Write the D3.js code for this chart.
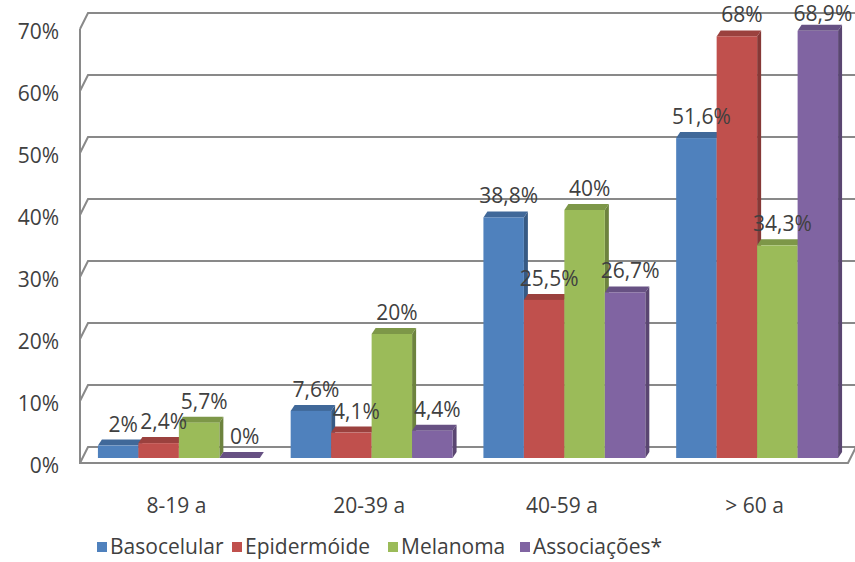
<!DOCTYPE html>
<html>
<head>
<meta charset="utf-8">
<script src="https://cdn.jsdelivr.net/npm/d3@7"></script>
<style>
  body { margin: 0; background: #fff; }
  svg text { font-family: "Open Sans", "Noto Sans", sans-serif; fill: #404040; }
</style>
</head>
<body>
<div id="chart"></div>
<script>
// age groups and tumour types
const categories = ["8-19 a", "20-39 a", "40-59 a", "> 60 a"];
const seriesNames = ["Basocelular", "Epidermóide", "Melanoma", "Associações*"];
const seriesColors = ["#4F81BD", "#C0504D", "#9BBB59", "#8064A2"];

// values in % per age group
const basocelular = [2, 7.6, 38.8, 51.6];
const epidermoide = [2.4, 4.1, 25.5, 68];
const melanoma = [5.7, 20, 40, 34.3];
const associacoes = [0, 4.4, 26.7, 68.9];

const yTicks = [0, 10, 20, 30, 40, 50, 60, 70];

const allSeries = [basocelular, epidermoide, melanoma, associacoes];

const width = 855, height = 562;
const fontSize = 21;
const svg = d3.select("#chart").append("svg")
    .attr("width", width)
    .attr("height", height);

// floor / wall depth (oblique projection)
const depth = {dx: 8, dy: 16};
// bars sit in the middle of the floor depth
const barOff = {dx: 2.5, dy: 5};
const barDepth = {dx: 4, dy: 6};

const y = d3.scaleLinear().domain([0, 70]).range([463, 29]);

const x0 = d3.scaleBand()
    .domain(categories)
    .range([80, 851])
    .paddingInner(0.16)
    .paddingOuter(0.08);

const x1 = d3.scaleBand()
    .domain(seriesNames)
    .range([0, x0.bandwidth()]);

const gridColor = "#898989";

// back wall gridlines with the short slant on the side wall
svg.append("g").selectAll("path")
    .data(yTicks)
    .join("path")
    .attr("d", d => `M80,${y(d)} L${80 + depth.dx},${y(d) - depth.dy} L${width},${y(d) - depth.dy}`)
    .attr("fill", "none")
    .attr("stroke", gridColor)
    .attr("stroke-width", 2);

// side wall edge and floor edge
svg.append("path")
    .attr("d", `M80,${y(70)} L80,${y(0)} L848,${y(0)} L${848 + depth.dx},${y(0) - depth.dy}`)
    .attr("fill", "none")
    .attr("stroke", gridColor)
    .attr("stroke-width", 2);

// y tick labels
svg.append("g").selectAll("text")
    .data(yTicks)
    .join("text")
    .attr("x", 59)
    .attr("y", d => y(d) + 2)
    .attr("text-anchor", "end")
    .attr("dominant-baseline", "central")
    .attr("font-size", fontSize)
    .text(d => d + "%");

// bars
const bars = [];
categories.forEach((c, ci) => {
    seriesNames.forEach((s, si) => {
        bars.push({cat: c, name: s, value: allSeries[si][ci], color: seriesColors[si]});
    });
});

const barG = svg.append("g");
bars.forEach(b => {
    const xl = x0(b.cat) + x1(b.name) + barOff.dx;
    const xr = xl + x1.bandwidth();
    const yb = y(0) - barOff.dy;
    const yt = yb - (y(0) - y(b.value));
    const c = d3.color(b.color);
    const dx = barDepth.dx, dy = barDepth.dy;

    // right side
    barG.append("path")
        .attr("d", `M${xr},${yt} L${xr + dx},${yt - dy} L${xr + dx},${yb - dy} L${xr},${yb} Z`)
        .attr("fill", c.darker(1.0));
    // top
    barG.append("path")
        .attr("d", `M${xl},${yt} L${xl + dx},${yt - dy} L${xr + dx},${yt - dy} L${xr},${yt} Z`)
        .attr("fill", c.darker(0.6));
    // front
    barG.append("rect")
        .attr("x", xl)
        .attr("y", yt)
        .attr("width", x1.bandwidth())
        .attr("height", yb - yt)
        .attr("fill", b.color);
    b.cx = (xl + xr) / 2;
    b.top = yt;
});

// value labels
const fmt = v => String(v).replace(".", ",") + "%";
svg.append("g").selectAll("text")
    .data(bars)
    .join("text")
    .attr("x", d => d.cx + 5)
    .attr("y", d => Math.max(d.top - 14, 21))
    .attr("text-anchor", "middle")
    .attr("font-size", fontSize)
    .text(d => fmt(d.value));

// category labels
svg.append("g").selectAll("text")
    .data(categories)
    .join("text")
    .attr("x", d => x0(d) + x0.bandwidth() / 2)
    .attr("y", 505)
    .attr("text-anchor", "middle")
    .attr("dominant-baseline", "central")
    .attr("font-size", fontSize)
    .text(d => d);

// legend
const legendX = [97, 232, 388, 520];
const legend = svg.append("g");
seriesNames.forEach((s, i) => {
    legend.append("rect")
        .attr("x", legendX[i])
        .attr("y", 542)
        .attr("width", 10)
        .attr("height", 10)
        .attr("fill", seriesColors[i]);
    legend.append("text")
        .attr("x", legendX[i] + 13)
        .attr("y", 546)
        .attr("dominant-baseline", "central")
        .attr("font-size", fontSize)
        .text(s);
});
</script>
</body>
</html>
